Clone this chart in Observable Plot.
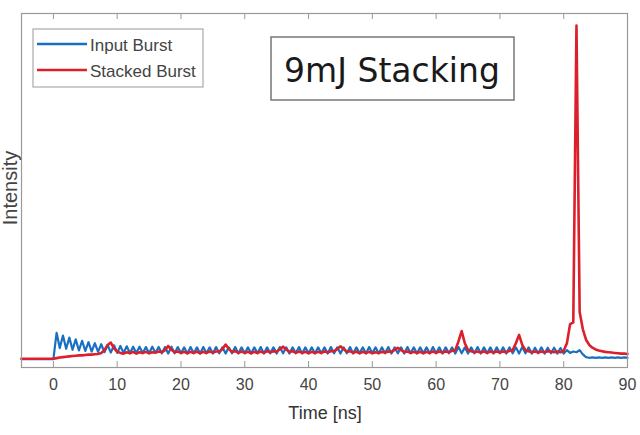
<!DOCTYPE html>
<html><head><meta charset="utf-8">
<script src="https://cdn.jsdelivr.net/npm/d3@7"></script>
<script src="https://cdn.jsdelivr.net/npm/@observablehq/plot@0.6"></script>
<style>body{margin:0;background:#fff;overflow:hidden}</style>
</head><body><div id="chart"></div>
<script>
// time axis of the samples: starts at -5 ns, one sample every 0.5 ns
const timeStart = -5;
const timeStep = 0.5;

const inputBurst = [
  0.004,0.004,0.004,0.004,0.004,0.004,0.004,0.004,0.004,0.004,
  0.004,0.08,0.036,0.072,0.034,0.066,0.031,0.061,0.029,0.057,
  0.028,0.053,0.026,0.05,0.025,0.047,0.024,0.045,0.023,0.044,
  0.022,0.042,
  0.022,0.041,0.021,0.04,0.022,0.04,0.021,0.039,0.021,0.04,0.022,0.039,0.021,0.039,0.02,0.04,0.021,0.039,0.021,0.038,
  0.02,0.039,0.021,0.038,0.02,0.039,0.021,0.038,0.02,0.039,0.021,0.038,0.02,0.038,0.021,0.039,0.02,0.038,0.021,0.038,
  0.02,0.038,0.021,0.039,0.02,0.038,0.021,0.038,0.02,0.039,0.021,0.038,0.02,0.038,0.021,0.039,0.02,0.038,0.021,0.038,
  0.02,0.038,0.021,0.038,0.02,0.039,0.021,0.038,0.02,0.038,0.021,0.039,0.02,0.038,0.021,0.038,0.02,0.039,0.021,0.038,
  0.02,0.038,0.021,0.039,0.02,0.038,0.021,0.038,0.02,0.039,0.021,0.038,0.02,0.038,0.021,0.038,0.02,0.039,0.021,0.038,
  0.02,0.038,0.021,0.038,0.02,0.039,0.021,0.038,0.02,0.038,0.021,0.039,0.02,0.038,0.021,0.038,0.02,0.038,0.021,0.038,
  0.02,0.038,0.021,0.038,0.02,0.039,0.021,0.038,0.02,0.037,0.021,0.038,0.02,0.037,0.021,0.037,0.02,0.036,
  0.02,
  0.03,0.022,0.026,0.024,0.03,0.018,0.01,0.008,0.009,0.008,0.009,0.008,0.009,0.008,0.009,0.008,0.009,0.008,0.009,0.008
];

const stackedBurst = [
  0.005,0.005,0.005,0.005,0.005,0.005,0.005,0.005,0.005,0.005,0.005,
  0.007,0.009,0.01,0.011,0.012,0.013,0.014,0.015,0.015,0.016,0.017,0.017,0.018,0.019,0.022,0.03,
  0.045,0.052,0.035,0.026,0.022,
  0.02,0.024,0.021,0.025,0.02,0.024,0.022,0.025,0.021,0.024,0.023,0.026,0.024,0.03,0.042,0.031,0.024,0.026,0.022,0.025,
  0.021,0.025,0.022,0.026,0.021,0.025,0.022,0.026,0.023,0.026,0.026,0.033,0.046,0.033,0.025,0.027,0.022,0.026,0.022,0.025,
  0.021,0.025,0.022,0.026,0.022,0.027,0.024,0.027,0.026,0.032,0.04,0.032,0.025,0.027,0.022,0.026,0.022,0.025,0.021,0.025,
  0.022,0.025,0.022,0.026,0.024,0.027,0.027,0.033,0.041,0.033,0.026,0.027,0.022,0.026,0.021,0.025,0.022,0.025,0.021,0.024,
  0.022,0.025,0.023,0.026,0.025,0.031,0.037,0.03,0.025,0.026,0.022,0.025,0.022,0.025,0.021,0.025,0.022,0.026,0.022,0.026,
  0.023,0.026,0.024,0.028,0.03,0.055,0.085,0.05,0.03,0.027,0.024,0.026,0.023,0.026,0.022,0.026,0.023,0.026,0.023,0.026,
  0.024,0.028,0.03,0.05,0.074,0.045,0.03,0.027,0.024,0.026,0.023,0.026,0.024,0.027,0.026,0.024,0.026,0.024,
  0.028,
  0.05,0.105,0.11,0.965,0.14,0.09,0.06,0.045,0.037,0.032,0.029,0.027,0.025,0.024,0.023,0.022,0.021,0.02,0.02,0.019
];

const seriesNames = ["Input Burst", "Stacked Burst"];
const seriesColors = ["#1a70c0", "#dc1f2b"];
const xTicks = [0, 10, 20, 30, 40, 50, 60, 70, 80, 90];
const xDomain = [-5, 90];
const yDomain = [-0.02, 1];
const titleText = "9mJ Stacking";
const xLabel = "Time [ns]";
const yLabel = "Intensity";

const rowsInput = inputBurst.map((v, i) => ({t: timeStart + i * timeStep, v}));
const rowsStacked = stackedBurst.map((v, i) => ({t: timeStart + i * timeStep, v}));

const W = 640, H = 435;
const mL = 21, mR = 13, mT = 13, mB = 68;
const frameH = H - mT - mB;
const FONT = "'Liberation Sans', Arial, sans-serif";

const chart = Plot.plot({
  width: W, height: H,
  marginLeft: mL, marginRight: mR, marginTop: mT, marginBottom: mB,
  x: {domain: xDomain},
  y: {domain: yDomain, axis: null},
  style: {fontFamily: FONT, fontSize: "16px", background: "#fff", overflow: "visible"},
  marks: [
    Plot.tickX(xTicks, {x: d => d, stroke: "#999", insetTop: frameH - 6}),
    Plot.tickX(xTicks, {x: d => d, stroke: "#999", insetBottom: frameH - 6}),
    Plot.axisX(xTicks, {tickSize: 0, tickPadding: 11, label: null, fill: "#444", color: "#444"}),
    Plot.lineY(rowsInput, {x: "t", y: "v", stroke: seriesColors[0], strokeWidth: 2.2}),
    Plot.lineY(rowsStacked, {x: "t", y: "v", stroke: seriesColors[1], strokeWidth: 2.6}),
    Plot.frame({stroke: "#999", strokeWidth: 1.2})
  ]
});
document.getElementById("chart").appendChild(chart);

const svg = d3.select(chart);
// x label
svg.append("text").attr("x", 325).attr("y", 419).attr("text-anchor", "middle")
  .attr("font-size", 18).attr("fill", "#333").attr("font-family", FONT).text(xLabel);
// y label
svg.append("text").attr("transform", "translate(17,188) rotate(-90)").attr("text-anchor", "middle")
  .attr("font-size", 20).attr("fill", "#444").attr("font-family", FONT).text(yLabel);

// legend
const lg = svg.append("g");
lg.append("rect").attr("x", 33).attr("y", 29).attr("width", 170).attr("height", 58)
  .attr("fill", "#fff").attr("stroke", "#aaa").attr("stroke-width", 1.2);
seriesNames.forEach((name, i) => {
  const y = 44 + i * 26;
  lg.append("line").attr("x1", 37).attr("x2", 87).attr("y1", y).attr("y2", y)
    .attr("stroke", seriesColors[i]).attr("stroke-width", 2.5);
  lg.append("text").attr("x", 90).attr("y", y + 1).attr("dy", "0.35em").attr("text-anchor", "start")
    .attr("font-size", 17).attr("fill", "#444").attr("font-family", FONT)
    .text(name);
});

// title box
const tb = svg.append("g");
tb.append("rect").attr("x", 271).attr("y", 37).attr("width", 243).attr("height", 63)
  .attr("fill", "#fff").attr("stroke", "#777").attr("stroke-width", 1.5);
tb.append("text").attr("x", 392).attr("y", 82).attr("text-anchor", "middle")
  .attr("font-size", 33).attr("fill", "#1a1a1a").attr("font-family", "'DejaVu Sans', sans-serif")
  .text(titleText);
</script>
</body></html>
